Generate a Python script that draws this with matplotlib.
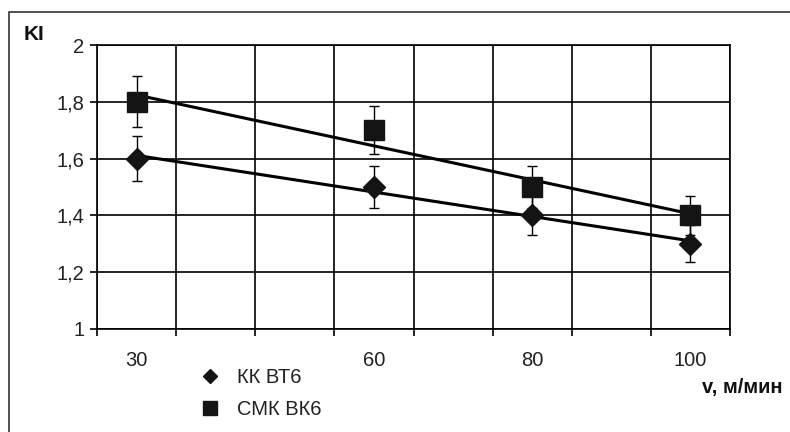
import matplotlib.pyplot as plt
from matplotlib.lines import Line2D
from matplotlib.patches import Rectangle
from matplotlib.ticker import FuncFormatter
import numpy as np

plt.rcParams['font.family'] = ['Liberation Sans', 'DejaVu Sans']

# speeds, m/min
v = [30, 60, 80, 100]
# KI values
kk_bt6 = [1.6, 1.5, 1.4, 1.3]
smk_vk6 = [1.8, 1.7, 1.5, 1.4]
err_frac = 0.05
labels = ['КК ВТ6', 'СМК ВК6']

mark = '#141414'

fig = plt.figure(figsize=(7.9, 4.32), dpi=100)
ax = fig.add_axes([97 / 790, 1 - 329 / 432, 633 / 790, 284 / 432])

# outer frame of the picture
fig.patches.append(Rectangle((9 / 790, -0.1), 1.2, 1 - 12 / 432 + 0.1,
                             transform=fig.transFigure, fill=False,
                             edgecolor='#333333', linewidth=1.2))

# trend lines
for y in (kk_bt6, smk_vk6):
    k, b = np.polyfit(v, y, 1)
    xs = np.array([v[0], v[-1]])
    ax.plot(xs, k * xs + b, color='black', linewidth=2.2, zorder=3)

ax.errorbar(v, kk_bt6, yerr=np.array(kk_bt6) * err_frac, fmt='D', ms=11,
            color=mark, ecolor='black', elinewidth=1, capsize=3.6, capthick=1, zorder=4)
ax.errorbar(v, smk_vk6, yerr=np.array(smk_vk6) * err_frac, fmt='s', ms=14.5,
            color=mark, ecolor='black', elinewidth=1, capsize=3.6, capthick=1, zorder=4)

ax.set_xlim(25, 105)
ax.set_ylim(1, 2)
ax.set_xticks(v)
ax.set_xticks(np.arange(25, 106, 10), minor=True)
ax.set_yticks(np.arange(1, 2.01, 0.2))
ax.yaxis.set_major_formatter(FuncFormatter(lambda y, p: f'{y:g}'.replace('.', ',')))
ax.grid(True, which='minor', axis='x', color='black', linewidth=1.2)
ax.grid(True, which='major', axis='y', color='black', linewidth=1.2)
ax.tick_params(axis='x', which='major', length=0, pad=16, labelsize=14.5, labelcolor='#222222')
ax.tick_params(axis='x', which='minor', length=5, width=1.2, direction='out')
ax.tick_params(axis='y', length=5, width=1.2, pad=4, labelsize=14.5, labelcolor='#222222')
for s in ax.spines.values():
    s.set_linewidth(1.2)

fig.text(24 / 790, 1 - 35 / 432, 'KI', fontsize=15, fontweight='bold',
         va='center', ha='left', color='#111111')
fig.text(782 / 790, 1 - 388 / 432, 'v, м/мин', fontsize=14.5, fontweight='bold',
         va='center', ha='right', color='#111111')

handles = [Line2D([], [], ls='none', marker='D', ms=7.5, color=mark),
           Line2D([], [], ls='none', marker='s', ms=10, color=mark)]
fig.legend(handles, labels, loc='upper left', bbox_to_anchor=(200 / 790, 1 - 368 / 432),
           frameon=False, fontsize=14.5, handlelength=1.0, handletextpad=0.85,
           labelspacing=0.65, borderaxespad=0, borderpad=0, labelcolor='#222222')

fig.savefig('out.png', dpi=100)
